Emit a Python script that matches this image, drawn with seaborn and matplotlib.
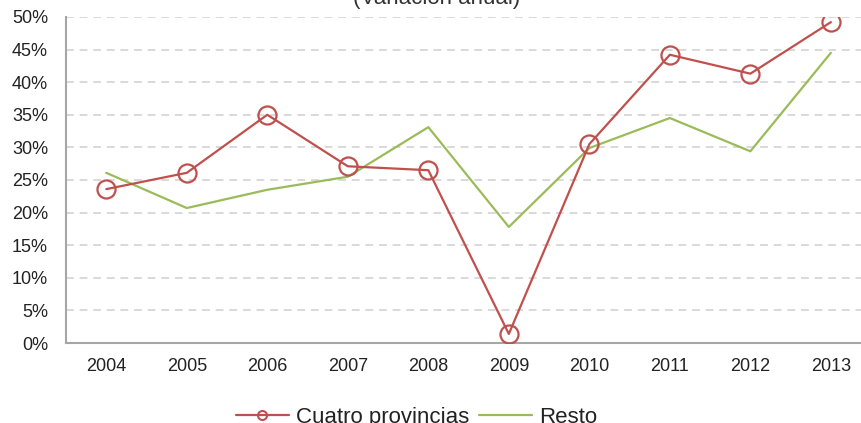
import matplotlib
matplotlib.use("Agg")
import matplotlib.pyplot as plt
import seaborn as sns
import pandas as pd
from matplotlib.ticker import FuncFormatter
from matplotlib.lines import Line2D

# Datos (variación anual, %)
anios = ["2004", "2005", "2006", "2007", "2008", "2009", "2010", "2011", "2012", "2013"]
cuatro_provincias = [23.6, 26.1, 35.0, 27.1, 26.5, 1.4, 30.5, 44.2, 41.3, 49.2]
resto = [26.1, 20.7, 23.5, 25.5, 33.1, 17.8, 29.9, 34.5, 29.4, 44.5]

sns.set_theme(style="white")
plt.rcParams['font.family'] = ['Liberation Sans', 'DejaVu Sans']

df = pd.DataFrame({
    'pos': list(range(len(anios))),
    'Cuatro provincias': cuatro_provincias,
    'Resto': resto,
})

rojo = '#C0504D'
verde = '#9BBB59'

fig = plt.figure(figsize=(8.62, 4.23), dpi=100)
ax = fig.add_axes([0.0766, 0.189, 0.934, 0.771])

sns.lineplot(data=df, x='pos', y='Cuatro provincias', ax=ax, color=rojo, linewidth=1.6,
             marker='o', markersize=13, markerfacecolor='none', markeredgecolor=rojo,
             markeredgewidth=1.6, zorder=3)
sns.lineplot(data=df, x='pos', y='Resto', ax=ax, color=verde, linewidth=1.6, zorder=2)

ax.set_xlim(-0.5, len(anios) - 0.5)
ax.set_ylim(0, 50)
ax.set_yticks(range(0, 51, 5))
ax.yaxis.set_major_formatter(FuncFormatter(lambda v, p: f'{v:.0f}%'))
ax.set_xticks(range(len(anios)))
ax.set_xticklabels(anios)
ax.set_xlabel('')
ax.set_ylabel('')

ax.grid(axis='y', color='#D9D9D9', linestyle=(0, (4, 3)), linewidth=1.4)
ax.set_axisbelow(True)
for s in ['top', 'right']:
    ax.spines[s].set_visible(False)
ax.spines['left'].set_color('#A6A6A6')
ax.spines['bottom'].set_color('#A6A6A6')
ax.spines['left'].set_linewidth(1.5)
ax.spines['bottom'].set_linewidth(1.5)
ax.tick_params(axis='both', length=0, labelsize=13, colors='#222222')
ax.tick_params(axis='x', pad=11)
ax.tick_params(axis='y', pad=13)

# leyenda (marcador más pequeño que en el gráfico)
handles = [
    Line2D([], [], color=rojo, linewidth=1.6, marker='o', markersize=6.5,
           markerfacecolor='none', markeredgecolor=rojo, markeredgewidth=1.5),
    Line2D([], [], color=verde, linewidth=1.6),
]
fig.legend(handles, ['Cuatro provincias', 'Resto'], loc='center',
           bbox_to_anchor=(0.483, 0.014), ncol=2, frameon=False,
           fontsize=16, handlelength=2.4, columnspacing=0.45, handletextpad=0.3,
           labelcolor='#222222')

fig.text(0.507, 0.9905, '(Variación anual)', ha='center', va='baseline',
         fontsize=16, color='#333333')

fig.savefig('out.png', dpi=100)
